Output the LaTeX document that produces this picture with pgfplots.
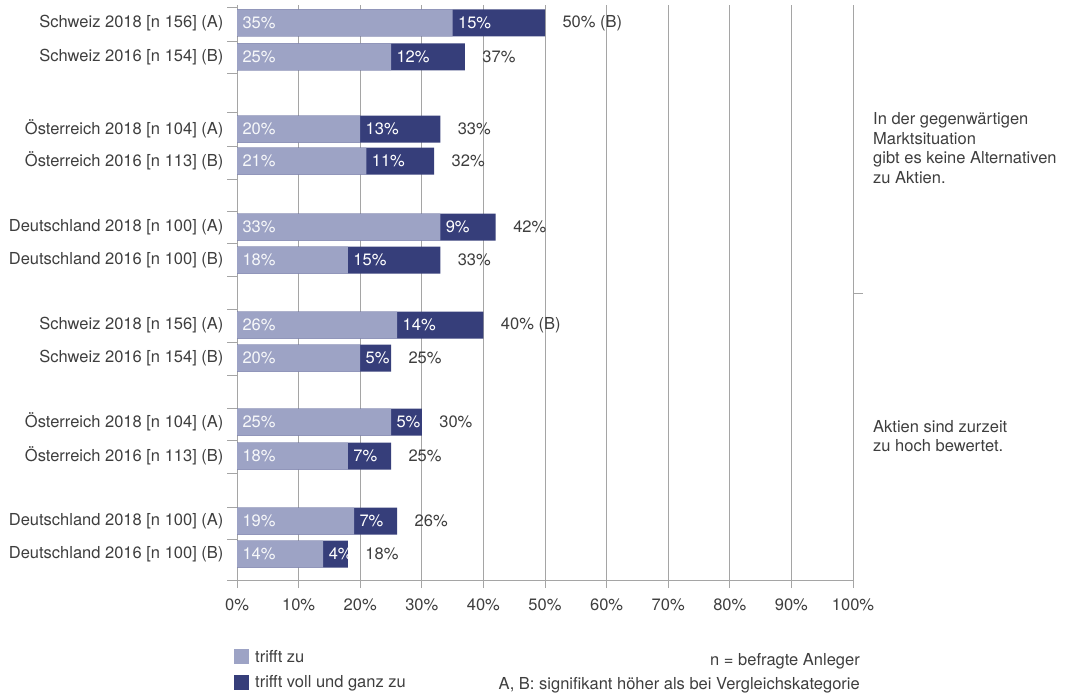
\documentclass[border=0pt]{standalone}
\usepackage{fontspec}
\setmainfont{TeX Gyre Heros}
\usepackage{pgfplots}
\pgfplotsset{compat=1.18}
\definecolor{lightbar}{RGB}{157,163,197}
\definecolor{darkbar}{RGB}{54,62,122}
\definecolor{txt}{RGB}{62,62,62}
\definecolor{gridc}{RGB}{165,165,165}
\newcommand{\fs}{\fontsize{16.5}{19.5}\selectfont}
\begin{document}
\begin{tikzpicture}[font=\fs]
\useasboundingbox (0,0) rectangle (1067pt,-695pt);
\begin{axis}[
  at={(237pt,-580pt)}, anchor=south west,
  scale only axis, width=616pt, height=575pt,
  xmin=0, xmax=100, ymin=-580, ymax=-5,
  axis x line*=bottom, axis y line*=left,
  axis line style={gridc, line width=0.8pt, -},
  xtick={0,10,...,100},
  xticklabel={\pgfmathprintnumber{\tick}\%},
  /pgf/number format/assume math mode=true,
  xmajorgrids, major grid style={gridc, line width=0.8pt},
  tick align=outside,
  major tick length=8pt, minor tick length=10pt,
  major x tick style={gridc, line width=0.8pt},
  major y tick style={draw=none},
  minor y tick style={gridc, line width=0.8pt},
  ytick={-23,-57,-129,-161,-227,-260,-325,-358,-422,-456,-521,-554},
  yticklabels={{Schweiz 2018 [n 156] (A)},{Schweiz 2016 [n 154] (B)},
    {Österreich 2018 [n 104] (A)},{Österreich 2016 [n 113] (B)},
    {Deutschland 2018 [n 100] (A)},{Deutschland 2016 [n 100] (B)},
    {Schweiz 2018 [n 156] (A)},{Schweiz 2016 [n 154] (B)},
    {Österreich 2018 [n 104] (A)},{Österreich 2016 [n 113] (B)},
    {Deutschland 2018 [n 100] (A)},{Deutschland 2016 [n 100] (B)}},
  minor ytick={-7,-41,-73,-112,-146,-179,-211,-243,-276,-309,-342,-375,-408,-440,-473,-507,-539,-580},
  tick label style={text=txt, font=\fs},
  xticklabel style={yshift=-7pt},
  yticklabel style={xshift=-2pt},
  clip=false,
  legend style={at={(axis description cs:0,0)}, anchor=north west, xshift=-3pt, yshift=-68pt,
    draw=none, fill=none, inner sep=0pt, row sep=8pt, column sep=4pt, text=txt,
    font=\fs, nodes={inner sep=2pt}},
  legend cell align=left,
  legend image code/.code={\fill[#1] (0pt,-7.5pt) rectangle (15pt,7.5pt);},
]
% totals (dark bar from 0 to total)
\addplot[xbar, bar width=27pt, bar shift=0pt, fill=darkbar, draw=none, forget plot,
  point meta=explicit symbolic, nodes near coords, nodes near coords align={anchor=west},
  every node near coord/.append style={xshift=14pt, text=txt, font=\fs}]
  coordinates {
  (50,-23) [50\% (B)]
  (37,-57) [37\%]
  (33,-129) [33\%]
  (32,-161) [32\%]
  (42,-227) [42\%]
  (33,-260) [33\%]
  (40,-325) [40\% (B)]
  (25,-358) [25\%]
  (30,-422) [30\%]
  (25,-456) [25\%]
  (26,-521) [26\%]
  (18,-554) [18\%]
  };
% trifft zu (light bar from 0)
\addplot[xbar, bar width=27pt, bar shift=0pt, fill=lightbar, draw=none, forget plot]
  coordinates {
  (35,-23) (25,-57) (20,-129) (21,-161) (33,-227) (18,-260)
  (26,-325) (20,-358) (25,-422) (18,-456) (19,-521) (14,-554)
  };
% labels inside light bars
\addplot[draw=none, mark=none, forget plot,
  point meta=explicit symbolic, nodes near coords, nodes near coords align={anchor=west},
  every node near coord/.append style={xshift=2pt, text=white!92!lightbar, font=\fs}]
  coordinates {
  (0,-23) [35\%]
  (0,-57) [25\%]
  (0,-129) [20\%]
  (0,-161) [21\%]
  (0,-227) [33\%]
  (0,-260) [18\%]
  (0,-325) [26\%]
  (0,-358) [20\%]
  (0,-422) [25\%]
  (0,-456) [18\%]
  (0,-521) [19\%]
  (0,-554) [14\%]
  };
% labels inside dark segments
\addplot[draw=none, mark=none, forget plot,
  point meta=explicit symbolic, nodes near coords, nodes near coords align={anchor=west},
  every node near coord/.append style={xshift=2pt, text=white, font=\fs}]
  coordinates {
  (35,-23) [15\%]
  (25,-57) [12\%]
  (20,-129) [13\%]
  (21,-161) [11\%]
  (33,-227) [9\%]
  (18,-260) [15\%]
  (26,-325) [14\%]
  (20,-358) [5\%]
  (25,-422) [5\%]
  (18,-456) [7\%]
  (19,-521) [7\%]
  (14,-554) [4\%]
  };
\addlegendimage{fill=lightbar, draw=none}
\addlegendentry{trifft zu}
\addlegendimage{fill=darkbar, draw=none}
\addlegendentry{trifft voll und ganz zu}
\draw[gridc, line width=0.8pt] (axis cs:100,-293) -- ++(10pt,0pt);
\end{axis}
\begin{scope}[every node/.style={text=txt, inner sep=0pt, font=\fs}]
\node[anchor=base west] at (873pt,-125pt) {In der gegenwärtigen};
\node[anchor=base west] at (873pt,-144.5pt) {Marktsituation};
\node[anchor=base west] at (873pt,-164pt) {gibt es keine Alternativen};
\node[anchor=base west] at (873pt,-183.5pt) {zu Aktien.};
\node[anchor=base west] at (873pt,-432pt) {Aktien sind zurzeit};
\node[anchor=base west] at (873pt,-451.5pt) {zu hoch bewertet.};
\node[anchor=base east] at (860pt,-665pt) {n = befragte Anleger};
\node[anchor=base east] at (860pt,-689pt) {A, B: signifikant höher als bei Vergleichskategorie};
\end{scope}
\end{tikzpicture}
\end{document}
